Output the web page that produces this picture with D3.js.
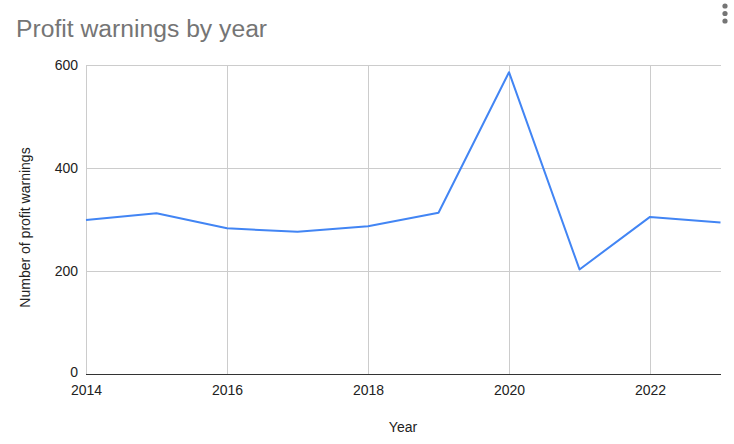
<!DOCTYPE html>
<html>
<head>
<meta charset="utf-8">
<script src="https://cdn.jsdelivr.net/npm/d3@7"></script>
<style>
  html, body { margin: 0; padding: 0; background: #fff; }
  svg { display: block; font-family: "Liberation Sans", Arial, sans-serif; }
</style>
</head>
<body>
<svg id="chart" width="734" height="444"></svg>
<script>
const years = [2014, 2015, 2016, 2017, 2018, 2019, 2020, 2021, 2022, 2023];
const warnings = [299, 312, 283, 276, 287, 313, 586, 203, 305, 294];
const xTicks = [2014, 2016, 2018, 2020, 2022];
const yTicks = [0, 200, 400, 600];
const title = "Profit warnings by year";
const xTitle = "Year";
const yTitle = "Number of profit warnings";

const svg = d3.select("#chart");
const plotLeft = 86, plotRight = 720.5, plotTop = 65, plotBottom = 374;
const FONT = "Liberation Sans, Arial, sans-serif";

const x = d3.scaleLinear().domain([2014, 2023]).range([plotLeft, plotRight]);
const y = d3.scaleLinear().domain([0, 600]).range([plotBottom, plotTop]);

// title
svg.append("text").attr("x", 16).attr("y", 37)
  .attr("font-size", 24.7).attr("fill", "#757575").text(title);

// menu dots
svg.selectAll("circle.dot").data([6, 13.5, 21]).enter().append("circle")
  .attr("cx", 725).attr("cy", d => d).attr("r", 2.6).attr("fill", "#757575");

// horizontal gridlines
const yAxis = d3.axisLeft(y).tickValues(yTicks).tickSize(-(plotRight - plotLeft)).tickPadding(8).tickFormat(d3.format("d"));
const gy = svg.append("g").attr("transform", `translate(${plotLeft},0)`).call(yAxis);
gy.attr("font-size", 14).attr("font-family", FONT);
gy.select(".domain").remove();
gy.selectAll(".tick line").attr("stroke", "#cccccc").attr("shape-rendering", "crispEdges");
gy.selectAll(".tick text").attr("fill", "#222").attr("dy", d => d === 0 ? "0.2em" : "0.34em");

// vertical gridlines
const xAxis = d3.axisBottom(x).tickValues(xTicks).tickSize(-(plotBottom - plotTop)).tickPadding(11).tickFormat(d3.format("d"));
const gx = svg.append("g").attr("transform", `translate(0,${plotBottom})`).call(xAxis);
gx.attr("font-size", 14).attr("font-family", FONT);
gx.select(".domain").remove();
gx.selectAll(".tick line").attr("stroke", "#cccccc").attr("shape-rendering", "crispEdges");
gx.selectAll(".tick text").attr("fill", "#222");

// baseline
svg.append("line").attr("x1", plotLeft).attr("x2", plotRight).attr("y1", y(0)).attr("y2", y(0))
  .attr("stroke", "#333").attr("stroke-width", 1).attr("shape-rendering", "crispEdges");

// line
const line = d3.line().x((d, i) => x(years[i])).y(d => y(d));
svg.append("path").datum(warnings).attr("d", line)
  .attr("fill", "none").attr("stroke", "#4285F4").attr("stroke-width", 2).attr("stroke-linejoin", "round");

// axis titles
svg.append("text").attr("x", 403).attr("y", 432).attr("text-anchor", "middle")
  .attr("font-size", 14).attr("fill", "#222").text(xTitle);
svg.append("text").attr("transform", `translate(30,227.5) rotate(-90)`).attr("text-anchor", "middle")
  .attr("font-size", 14).attr("fill", "#222").text(yTitle);
</script>
</body>
</html>
